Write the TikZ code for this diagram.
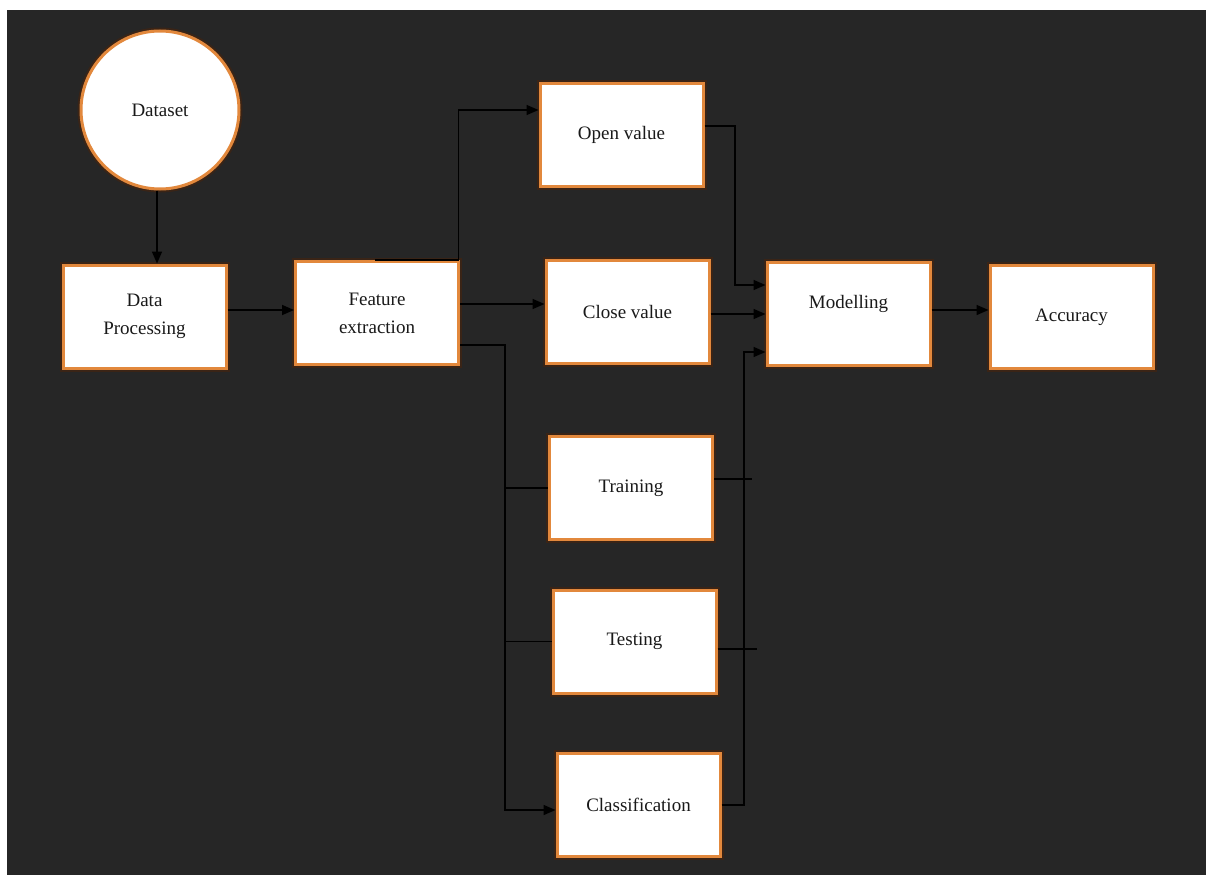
\documentclass[tikz,border=0pt]{standalone}
\usepackage{fontspec}
\setmainfont{Liberation Serif}
\usetikzlibrary{arrows.meta}
\definecolor{bgdark}{RGB}{38,38,38}
\definecolor{edgeorange}{RGB}{226,136,60}
\definecolor{halo}{RGB}{58,36,22}
\definecolor{txt}{RGB}{25,25,25}
\begin{document}
\begin{tikzpicture}[x=1pt,y=-1pt,
  box/.style={rectangle, fill=white, draw=edgeorange, line width=3pt,
    preaction={draw=halo, line width=7pt},
    minimum width=163pt, minimum height=103pt, inner sep=0pt,
    align=center, text=txt, font=\fontsize{19}{28}\selectfont},
  roundnode/.style={circle, fill=white, draw=edgeorange, line width=3pt,
    preaction={draw=halo, line width=7pt},
    minimum size=158pt, inner sep=0pt, text=txt, font=\fontsize{19}{28}\selectfont},
  link/.style={draw=black, line width=1.6pt},
  arr/.style={link, -{Triangle[length=12pt,width=10pt]}}]
\useasboundingbox (0,0) rectangle (1206,875);
\fill[white] (0,0) rectangle (1206,875);
\fill[bgdark] (7,10) rectangle (1206,875);

% helper coordinates
\coordinate (L110) at (0,110);
\coordinate (L126) at (0,126);
\coordinate (L285) at (0,285);
\coordinate (L304) at (0,304);
\coordinate (L310) at (0,310);
\coordinate (L314) at (0,314);
\coordinate (L345) at (0,345);
\coordinate (L352) at (0,352);
\coordinate (L479) at (0,479);
\coordinate (L649) at (0,649);
\coordinate (L805) at (0,805);
\coordinate (L810) at (0,810);
\coordinate (V1) at (505,0);
\coordinate (V2) at (735,0);
\coordinate (V3) at (744,0);
\coordinate (S1) at (752,479);
\coordinate (S2) at (757,649);

% nodes
\node[roundnode] (ds) at (160,110) {Dataset};
\node[box] (dp) at (144.5,316.5) {Data\\Processing};
\node[box] (fe) at (377,313) {Feature\\extraction};
\node[box] (ov) at (621.5,134.5) {Open value};
\node[box] (cv) at (627.5,312) {Close value};
\node[box, text depth=24pt] (mo) at (848.5,314) {Modelling};
\node[box] (ac) at (1071.5,317) {Accuracy};
\node[box] (tr) at (631,488) {Training};
\node[box] (te) at (634.5,641.5) {Testing};
\node[box] (cl) at (638.5,804.5) {Classification};

% connectors
\draw[arr] ([xshift=-3pt]ds.south) -- ([xshift=-3pt]ds.south |- dp.north);
\draw[arr] (dp.east |- L310) -- (fe.west |- L310);
\draw[arr] ([xshift=-2pt]fe.north) -- ([xshift=-1.5pt]fe.north east) |- (ov.west |- L110);
\draw[arr] (fe.east |- L304) -- (cv.west |- L304);
\draw[arr] (fe.east |- L345) -| (V1 |- L810) -- (cl.west |- L810);
\draw[link] (V1 |- tr.west) -- (tr.west);
\draw[link] (V1 |- te.west) -- (te.west);
\draw[arr] (ov.east |- L126) -| (V2 |- L285) -- (mo.west |- L285);
\draw[arr] (cv.east |- L314) -- (mo.west |- L314);
\draw[arr] (cl.east |- L805) -| (V3 |- L352) -- (mo.west |- L352);
\draw[link] (tr.east |- L479) -- (S1);
\draw[link] (te.east |- L649) -- (S2);
\draw[arr] (mo.east |- L310) -- (ac.west |- L310);
\end{tikzpicture}
\end{document}
